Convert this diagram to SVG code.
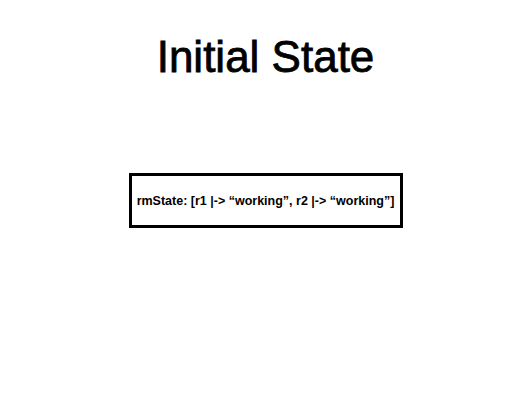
<svg xmlns="http://www.w3.org/2000/svg" width="532" height="400" viewBox="0 0 532 400">
<style>
.title{font-family:"Liberation Sans",Arial,sans-serif;font-size:44px;fill:#000;stroke:#000;stroke-width:0.8;text-anchor:middle}
.lbl{font-family:"Liberation Sans",Arial,sans-serif;font-size:12.5px;font-weight:bold;fill:#000;text-anchor:middle}
.box{fill:#fff;stroke:#000;stroke-width:3}
</style>
<rect width="532" height="400" fill="#fff"/>
<text class="title" x="265.5" y="72">Initial State</text>
<g id="rmState">
<rect class="box" x="130.5" y="174.5" width="271" height="52"/>
<text class="lbl" x="265.5" y="205">rmState: [r1 |-&gt; “working”, r2 |-&gt; “working”]</text>
</g>
<g id="connectors"/>
</svg>
